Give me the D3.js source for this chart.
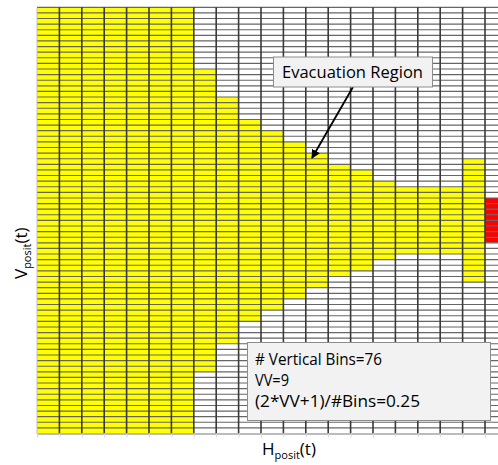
<!DOCTYPE html>
<html>
<head>
<meta charset="utf-8">
<script src="https://cdn.jsdelivr.net/npm/d3@7"></script>
<style>
  html, body { margin: 0; padding: 0; background: #fff; overflow: hidden; }
  svg { display: block; }
  text { font-family: "Open Sans", Lato, sans-serif; fill: #000; }
</style>
</head>
<body>
<svg id="chart" width="498" height="465"></svg>
<script>
// ---- data ----
const nRows = 76;                       // vertical bins
const hBins = d3.range(21);             // horizontal bins (columns)
// first yellow row (from top) and end row (exclusive) per column
const yellowTop    = [0,0,0,0,0,0,0,11,16,20,22,24,26,28,29,31,32,32,32,27,null];
const yellowBottom = [76,76,76,76,76,76,76,65,60,56,54,52,50,48,47,45,44,44,44,49,null];
// red block in the last column
const redColumn = 20;
const redTop = 34;
const redBottom = 42;
const annotationText = "Evacuation Region";
const infoLines = ["# Vertical Bins=76", "VV=9", "(2*VV+1)/#Bins=0.25"];
const xLabel = {main: "H", sub: "posit", tail: "(t)"};
const yLabel = {main: "V", sub: "posit", tail: "(t)"};

// ---- layout ----
const svg = d3.select("#chart");
const gLeft = 37, gTop = 7.3, colW = 22.4, gBottom = 433.5;
const x = d3.scaleLinear().domain([0, hBins.length]).range([gLeft, gLeft + colW * hBins.length]);
const y = d3.scaleLinear().domain([0, nRows]).range([gTop, gBottom]);
const rows = d3.range(nRows);

// cell fills
const cells = [];
hBins.forEach(c => {
  rows.forEach(r => {
    let fill = "#ffffff";
    if (yellowTop[c] != null && r >= yellowTop[c] && r < yellowBottom[c]) fill = "#ffff00";
    if (c === redColumn && r >= redTop && r < redBottom) fill = "#ff0000";
    cells.push({c, r, fill});
  });
});
svg.append("g").selectAll("rect").data(cells).join("rect")
  .attr("x", d => x(d.c)).attr("y", d => y(d.r))
  .attr("width", x(1) - x(0)).attr("height", y(1) - y(0))
  .attr("fill", d => d.fill);

// horizontal grid lines (row borders)
svg.append("g").selectAll("line").data(d3.range(nRows)).join("line")
  .attr("x1", x(0)).attr("x2", x(hBins.length))
  .attr("y1", d => y(d)).attr("y2", d => y(d))
  .attr("stroke", "#666666").attr("stroke-width", 1.15);

// vertical grid lines (column borders)
svg.append("g").selectAll("line").data(d3.range(1, hBins.length + 1)).join("line")
  .attr("x1", d => x(d)).attr("x2", d => x(d))
  .attr("y1", y(0)).attr("y2", y(nRows))
  .attr("stroke", "#3a3a3a").attr("stroke-width", 1.6);

// axes
const xAxis = d3.axisBottom(x).tickValues(d3.range(0, hBins.length + 1)).tickFormat("").tickSize(4).tickSizeOuter(0);
const gx = svg.append("g").attr("transform", `translate(0,${y(nRows)})`).call(xAxis);
gx.select(".domain").attr("stroke", "#a6a6a6").attr("stroke-width", 1.5);
gx.selectAll(".tick line").attr("stroke", "#d0d8e8");
const yAxis = d3.axisLeft(y).tickValues([]).tickSizeOuter(0);
const gy = svg.append("g").attr("transform", `translate(${x(0) - 0.5},0)`).call(yAxis);
gy.select(".domain").attr("stroke", "#bfbfbf").attr("stroke-width", 1);

// axis titles
const xt = svg.append("text").attr("x", 262).attr("y", 455).attr("font-size", 17);
xt.append("tspan").text(xLabel.main);
xt.append("tspan").attr("font-size", 11).attr("dy", 4).text(xLabel.sub);
xt.append("tspan").attr("dy", -4).text(xLabel.tail);

const yt = svg.append("text").attr("transform", "translate(27,279) rotate(-90)").attr("font-size", 17);
yt.append("tspan").text(yLabel.main);
yt.append("tspan").attr("font-size", 11).attr("dy", 4).text(yLabel.sub);
yt.append("tspan").attr("dy", -4).text(yLabel.tail);

// annotation callout
const defs = svg.append("defs");
defs.append("marker").attr("id", "ah").attr("viewBox", "0 0 10 10").attr("refX", 9).attr("refY", 5)
  .attr("markerWidth", 5).attr("markerHeight", 5).attr("orient", "auto")
  .append("path").attr("d", "M0,0 L10,5 L0,10 Z").attr("fill", "#000");
svg.append("line").attr("x1", 353).attr("y1", 87).attr("x2", 312).attr("y2", 158)
  .attr("stroke", "#000").attr("stroke-width", 1.8).attr("marker-end", "url(#ah)");
svg.append("rect").attr("x", 273.5).attr("y", 57).attr("width", 159).attr("height", 30)
  .attr("fill", "#f2f2f2").attr("stroke", "#8c8c8c").attr("stroke-width", 1);
svg.append("text").attr("x", 282).attr("y", 78).attr("font-size", 16.5)
  .attr("textLength", 141).attr("lengthAdjust", "spacingAndGlyphs").text(annotationText);

// info box
svg.append("rect").attr("x", 247.5).attr("y", 342.5).attr("width", 243).attr("height", 78)
  .attr("fill", "#f2f2f2").attr("stroke", "#8c8c8c").attr("stroke-width", 1);
const infoW = [127, 34, 165];
svg.append("g").selectAll("text").data(infoLines).join("text")
  .attr("x", 255).attr("y", (d, i) => 365 + i * 20.8).attr("font-size", 16)
  .attr("textLength", (d, i) => infoW[i]).attr("lengthAdjust", "spacingAndGlyphs")
  .text(d => d);
</script>
</body>
</html>
